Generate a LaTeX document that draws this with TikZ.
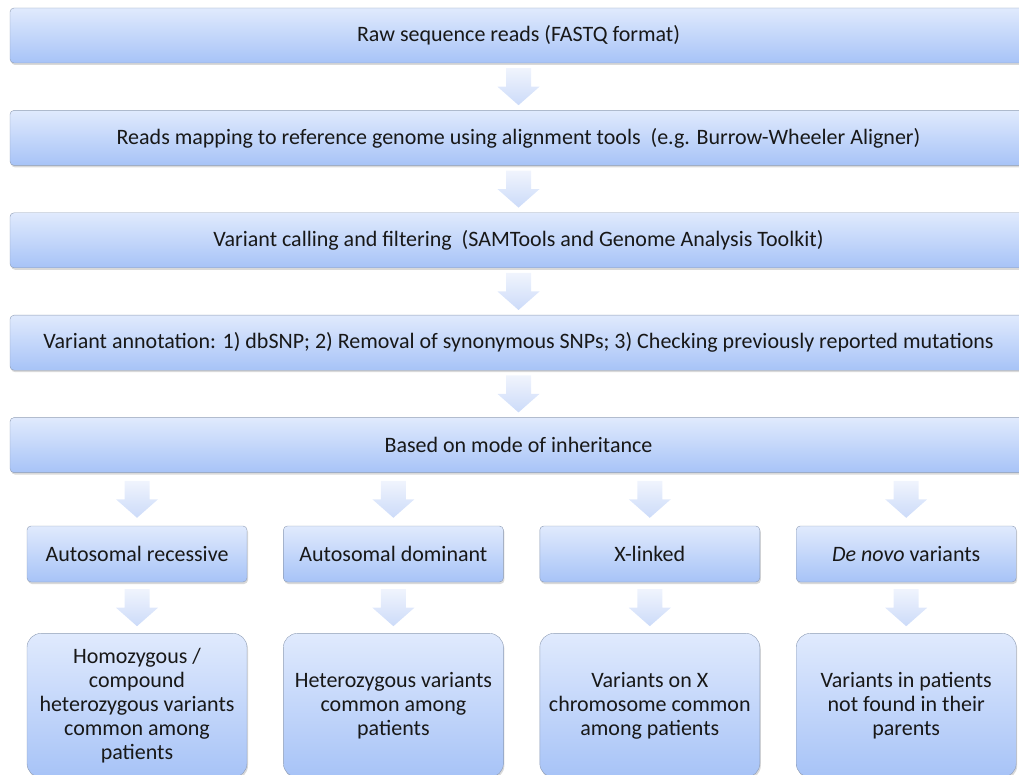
\documentclass[tikz,border=0pt]{standalone}
\usepackage{fontspec}
\setmainfont{Carlito}
\usetikzlibrary{positioning,calc,shadows}

\definecolor{boxtop}{HTML}{E0EAFD}
\definecolor{boxbot}{HTML}{A7C3F7}
\definecolor{boxline}{HTML}{8E9CB4}
\definecolor{arrowtop}{HTML}{F0F4FD}
\definecolor{arrowbot}{HTML}{CCDBF9}
\definecolor{inktext}{HTML}{181818}

% shaded block arrow halfway between two points
\newcommand{\flowarrow}[2]{%
	\begin{scope}[shift={($(#1)!0.5!(#2)$)}]
		\shade[top color=arrowtop,bottom color=arrowbot]
			(-12.5,-18.5) -- (12.5,-18.5) -- (12.5,0) -- (21,0) -- (0,18.5) -- (-21,0) -- (-12.5,0) -- cycle;
	\end{scope}}

\begin{document}
\begin{tikzpicture}[
			x=1pt,y=-1pt,
			node distance=47pt and 36pt,
			every node/.style={text=inktext,font=\fontsize{22}{24}\selectfont},
			stepbox/.style={draw=boxline,rounded corners=4pt,top color=boxtop,bottom color=boxbot,
				drop shadow={opacity=0.3,shadow xshift=1pt,shadow yshift=-2pt},
				minimum width=1017pt,minimum height=55pt,inner sep=0pt},
			modebox/.style={stepbox,minimum width=220pt,minimum height=56pt},
			resultbox/.style={stepbox,rounded corners=14pt,minimum width=220pt,minimum height=144pt,align=center}
		]
		\path[use as bounding box,clip] (0,0) rectangle (1019,775);

		\node[stepbox] (raw) at (518.5,35.5) {Raw sequence reads (FASTQ format)};
		\node[stepbox,below=of raw] (mapping) {Reads mapping to reference genome using alignment tools\ \ (e.g. Burrow-Wheeler Aligner)};
		\node[stepbox,below=of mapping] (calling) {Variant calling and filtering\ \ (SAMTools and Genome Analysis Toolkit)};
		\node[stepbox,below=of calling] (annot) {Variant annotation: 1) dbSNP; 2) Removal of synonymous SNPs; 3) Checking previously reported mutations};
		\node[stepbox,below=of annot] (mode) {Based on mode of inheritance};

		\node[modebox] (ar) at (137,554) {Autosomal recessive};
		\node[modebox,right=of ar] (ad) {Autosomal dominant};
		\node[modebox,right=of ad] (xl) {X-linked};
		\node[modebox,right=of xl] (dn) {\textit{De novo} variants};

		\node[resultbox,below=51pt of ar] (arres) {Homozygous /\\compound\\heterozygous variants\\common among\\patients};
		\node[resultbox,below=51pt of ad] (adres) {Heterozygous variants\\common among\\patients};
		\node[resultbox,below=51pt of xl] (xlres) {Variants on X\\chromosome common\\among patients};
		\node[resultbox,below=51pt of dn] (dnres) {Variants in patients\\not found in their\\parents};

		\flowarrow{raw.south}{mapping.north}
		\flowarrow{mapping.south}{calling.north}
		\flowarrow{calling.south}{annot.north}
		\flowarrow{annot.south}{mode.north}
		\foreach \col in {ar,ad,xl,dn}{
			\flowarrow{mode.south -| \col}{\col.north}
			\flowarrow{\col.south}{\col res.north}
		}

	\end{tikzpicture}
\end{document}
